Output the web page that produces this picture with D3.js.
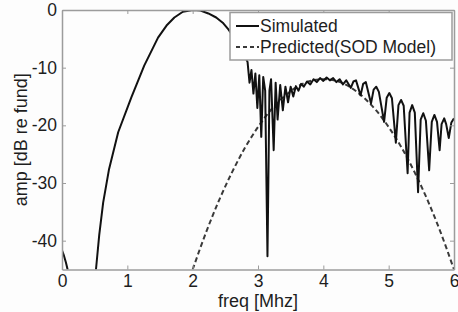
<!DOCTYPE html>
<html>
<head>
<meta charset="utf-8">
<script src="https://cdn.jsdelivr.net/npm/d3@7"></script>
<style>
  body { margin: 0; background: #fdfdfd; }
  svg { display: block; font-family: "Liberation Sans", Arial, sans-serif; }
</style>
</head>
<body>
<div id="chart"></div>
<script>
// valores
const xTicks = [0, 1, 2, 3, 4, 5, 6];
const yTicks = [0, -10, -20, -30, -40];
const legendLabels = ['Simulated', 'Predicted(SOD Model)'];

// curva simulada [freq MHz, dB]
const simulated = [
  [0, -41.7], [0.03, -42.6], [0.06, -43.8], [0.09, -45.2], [0.12, -47],
  [0.5, -47], [0.52, -45], [0.57, -39.0], [0.63, -33.4], [0.72, -27.6], [0.86, -21.2],
  [1.06, -15.2], [1.26, -9.6], [1.47, -4.8], [1.6, -2.7], [1.72, -1.3], [1.85, -0.3],
  [2.0, 0], [2.12, -0.1], [2.24, -0.6], [2.36, -1.3], [2.46, -2.2], [2.55, -3.4],
  [2.64, -4.9], [2.72, -6.4], [2.79, -7.9], [2.84, -9.0],
  [2.87, -12.6], [2.90, -10.4], [2.93, -14.5], [2.96, -11.0], [2.99, -17.0],
  [3.02, -11.3], [3.05, -22.0], [3.08, -11.6], [3.11, -14], [3.145, -42.7],
  [3.175, -14], [3.20, -12.0], [3.24, -24.3], [3.27, -12.6], [3.30, -19.0],
  [3.34, -13.0], [3.38, -17.4], [3.42, -13.3], [3.46, -16.0], [3.50, -13.3],
  [3.54, -15.0], [3.58, -13.2], [3.62, -14.0], [3.66, -12.8], [3.70, -13.3],
  [3.75, -12.4], [3.80, -12.9], [3.85, -12.0], [3.90, -12.5], [3.95, -11.8],
  [4.00, -12.3], [4.05, -11.7], [4.10, -12.2], [4.15, -11.8], [4.20, -12.5],
  [4.25, -12.0], [4.30, -12.9], [4.35, -12.2], [4.42, -13.5], [4.46, -12.4],
  [4.50, -12.2], [4.57, -14.8], [4.61, -12.8], [4.65, -12.5], [4.73, -16.2],
  [4.77, -13.8], [4.81, -13.3], [4.85, -14.2], [4.93, -19.4], [4.97, -15.2],
  [5.01, -14.4], [5.05, -15.3], [5.11, -23.0], [5.15, -16.5], [5.19, -15.6],
  [5.23, -16.6], [5.29, -28.3], [5.32, -17.8], [5.36, -16.5], [5.40, -17.8],
  [5.45, -31.6], [5.49, -19.0], [5.53, -17.9], [5.57, -19.2], [5.62, -27.8],
  [5.66, -19.4], [5.70, -18.2], [5.74, -19.4], [5.78, -24.3], [5.81, -19.8],
  [5.85, -18.8], [5.88, -19.8], [5.92, -22.2], [5.96, -19.5], [6.00, -18.8]
];

// curva predicha (modelo SOD)
const predFreq = [2.0, 2.2, 2.4, 2.6, 2.8, 3.0, 3.2, 3.4, 3.6, 3.8, 4.0, 4.2, 4.4, 4.6, 4.8, 5.0, 5.2, 5.4, 5.6, 5.8, 6.0];
const predAmp = [-45, -38.7, -33.1, -28.2, -23.9, -20.3, -17.3, -15.0, -13.3, -12.3, -12.0, -12.3, -13.3, -15.0, -17.3, -20.3, -23.9, -28.2, -33.1, -38.7, -45];

const W = 458, H = 312;
const margin = { top: 10, right: 4, bottom: 42.5, left: 62 };
const width = W - margin.left - margin.right;
const height = H - margin.top - margin.bottom;
const axisColor = '#9c9c9c';
const textColor = '#1e1e1e';

const svg = d3.select('#chart').append('svg')
  .attr('width', W)
  .attr('height', H);

const x = d3.scaleLinear().domain([0, 6]).range([margin.left, margin.left + width]);
const y = d3.scaleLinear().domain([-45, 0]).range([margin.top + height, margin.top]);

svg.append('clipPath').attr('id', 'plot')
  .append('rect')
  .attr('x', margin.left).attr('y', margin.top)
  .attr('width', width).attr('height', height);

const line = d3.line()
  .x(d => x(d[0]))
  .y(d => y(d[1]));

const g = svg.append('g').attr('clip-path', 'url(#plot)');

// prediccion punteada
g.append('path')
  .datum(predFreq.map((f, i) => [f, predAmp[i]]))
  .attr('d', line.curve(d3.curveCatmullRom))
  .attr('fill', 'none')
  .attr('stroke', '#3a3a3a')
  .attr('stroke-width', 2)
  .attr('stroke-dasharray', '5,3');

// simulada
g.append('path')
  .datum(simulated)
  .attr('d', line.curve(d3.curveLinear))
  .attr('fill', 'none')
  .attr('stroke', '#111')
  .attr('stroke-width', 2)
  .attr('stroke-linejoin', 'round');

// ejes (ticks hacia adentro, en los cuatro lados)
const tickLen = 4;
const axes = [
  d3.axisBottom(x).tickValues(xTicks).tickSize(-tickLen).tickPadding(5).tickFormat(d3.format('d')),
  d3.axisTop(x).tickValues(xTicks).tickSize(-tickLen).tickFormat(''),
  d3.axisLeft(y).tickValues(yTicks).tickSize(-tickLen).tickPadding(5).tickFormat(d => String(d)),
  d3.axisRight(y).tickValues(yTicks).tickSize(-tickLen).tickFormat('')
];
const pos = [
  `translate(0,${margin.top + height})`,
  `translate(0,${margin.top})`,
  `translate(${margin.left},0)`,
  `translate(${margin.left + width},0)`
];
axes.forEach((a, i) => {
  const ax = svg.append('g').attr('transform', pos[i]).call(a.tickSizeOuter(0));
  ax.select('.domain').attr('stroke', axisColor).attr('stroke-width', 1.5);
  ax.selectAll('.tick line').attr('stroke', axisColor).attr('stroke-width', 1);
  ax.selectAll('.tick text')
    .attr('fill', textColor)
    .attr('font-size', '17.5px')
    .attr('font-family', '"Liberation Sans", Arial, sans-serif');
});

// etiquetas de ejes
svg.append('text')
  .attr('x', x(3))
  .attr('y', 306.5)
  .attr('text-anchor', 'middle')
  .attr('font-size', '18px')
  .attr('fill', textColor)
  .text('freq [Mhz]');
svg.append('text')
  .attr('transform', `translate(27,${y(-22.5)}) rotate(-90)`)
  .attr('text-anchor', 'middle')
  .attr('font-size', '18px')
  .attr('fill', textColor)
  .text('amp [dB re fund]');

// leyenda
const lg = svg.append('g');
lg.append('rect')
  .attr('x', 230).attr('y', 12.5)
  .attr('width', 222).attr('height', 47.5)
  .attr('fill', '#fff')
  .attr('stroke', axisColor)
  .attr('stroke-width', 1.5);
legendLabels.forEach((label, i) => {
  const ly = 26 + i * 21;
  lg.append('line')
    .attr('x1', 236).attr('x2', 259)
    .attr('y1', ly).attr('y2', ly)
    .attr('stroke', i ? '#3a3a3a' : '#111')
    .attr('stroke-width', 2)
    .attr('stroke-dasharray', i ? '4,3' : null);
  lg.append('text')
    .attr('x', 260)
    .attr('y', ly + 6)
    .attr('font-size', '17.5px')
    .attr('fill', textColor)
    .text(label);
});
</script>
</body>
</html>
